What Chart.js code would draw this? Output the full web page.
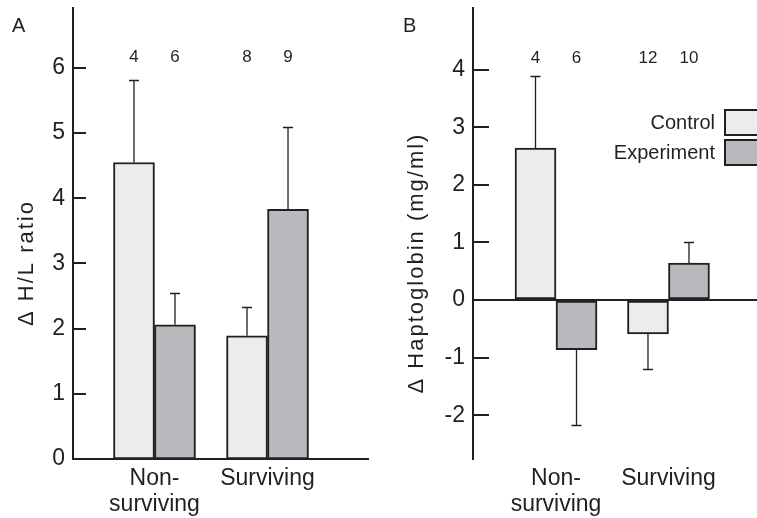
<!DOCTYPE html>
<html>
<head>
<meta charset="utf-8">
<script src="https://cdn.jsdelivr.net/npm/chart.js@4"></script>
<style>
  html, body { margin: 0; padding: 0; background: #fff; }
  #wrap { position: relative; width: 757px; height: 518px; overflow: hidden; }
  canvas { position: absolute; top: 0; }
  #chartA { left: 0; }
  #chartB { left: 380px; }
</style>
</head>
<body>
<div id="wrap">
  <canvas id="chartA" width="380" height="518"></canvas>
  <canvas id="chartB" width="377" height="518"></canvas>
</div>
<script>
// --- data ---
const groupLabels = [["Non-", "surviving"], "Surviving"];
const groupPos = [1, 2];
const seriesNames = ["Control", "Experiment"];

// panel A: change in H/L ratio
const hlTicks = [0, 1, 2, 3, 4, 5, 6];
const hlControl = [4.55, 1.89];
const hlControlErr = [1.26, 0.44];
const hlExperiment = [2.06, 3.83];
const hlExperimentErr = [0.49, 1.26];
const hlControlN = [4, 8];
const hlExperimentN = [6, 9];

// panel B: change in haptoglobin (mg/ml)
const hpTicks = [-2, -1, 0, 1, 2, 3, 4];
const hpControl = [2.64, -0.59];
const hpControlErr = [1.25, 0.61];
const hpExperiment = [-0.86, 0.64];
const hpExperimentErr = [1.31, 0.37];
const hpControlN = [4, 12];
const hpExperimentN = [6, 10];

// --- style ---
const ink = "#231f20";
const fills = ["#ececec", "#b8b9bc"];
const FONT = '"Liberation Sans", Arial, Helvetica, sans-serif';

function makeDatasets(series) {
  return series.map((s, i) => ({
    label: seriesNames[i],
    data: groupPos.map((x, j) => ({ x, y: s.vals[j] })),
    err: s.errs,
    n: s.ns,
    backgroundColor: fills[i],
    borderColor: ink,
    borderWidth: 2,
    borderSkipped: false,
    barThickness: 41
  }));
}

// error bars, counts, inside ticks, titles, legend
const deco = {
  id: "deco",
  afterDatasetsDraw(chart, args, opts) {
    const ctx = chart.ctx;
    const y = chart.scales.y;
    ctx.save();
    ctx.strokeStyle = ink;
    ctx.fillStyle = ink;
    ctx.lineWidth = 1.3;
    chart.data.datasets.forEach((ds, i) => {
      chart.getDatasetMeta(i).data.forEach((el, j) => {
        const v = ds.data[j].y;
        const tip = v + (v < 0 ? -ds.err[j] : ds.err[j]);
        const y0 = y.getPixelForValue(v);
        const y1 = Math.round(y.getPixelForValue(tip)) + 0.5;
        ctx.beginPath();
        ctx.moveTo(el.x, y0);
        ctx.lineTo(el.x, y1);
        ctx.moveTo(el.x - 5, y1);
        ctx.lineTo(el.x + 5, y1);
        ctx.stroke();
        // group size above the bars
        ctx.font = "17px " + FONT;
        ctx.textAlign = "center";
        ctx.textBaseline = "middle";
        ctx.fillText(ds.n[j], el.x, opts.countY);
      });
    });
    ctx.restore();
  },
  afterDraw(chart, args, opts) {
    const ctx = chart.ctx;
    const area = chart.chartArea;
    const y = chart.scales.y;
    ctx.save();
    ctx.strokeStyle = ink;
    ctx.fillStyle = ink;
    ctx.lineWidth = 2;
    y.ticks.forEach((t, i) => {
      const py = Math.round(y.getPixelForTick(i));
      ctx.beginPath();
      ctx.moveTo(area.left, py);
      ctx.lineTo(area.left + opts.tickLen, py);
      ctx.stroke();
    });

    // panel letter
    ctx.font = "20px " + FONT;
    ctx.textAlign = "left";
    ctx.textBaseline = "alphabetic";
    ctx.fillText(opts.letter, opts.letterX, 32);

    // axis title
    ctx.save();
    ctx.translate(opts.titleX, 263);
    ctx.rotate(-Math.PI / 2);
    ctx.font = "22px " + FONT;
    ctx.letterSpacing = "2px";
    ctx.textAlign = "center";
    ctx.textBaseline = "middle";
    ctx.fillText(opts.title, 0, 0);
    ctx.restore();

    // legend, boxes to the right of the names
    if (opts.legend) {
      ctx.font = "20px " + FONT;
      ctx.textAlign = "right";
      ctx.textBaseline = "middle";
      seriesNames.forEach((name, i) => {
        const top = 110 + i * 30;
        ctx.fillStyle = fills[i];
        ctx.fillRect(345, top, 40, 25);
        ctx.strokeRect(345, top, 40, 25);
        ctx.fillStyle = ink;
        ctx.fillText(name, 335, top + 13);
      });
    }
    ctx.restore();
  }
};

function buildConfig(p) {
  return {
    type: "bar",
    data: { datasets: makeDatasets(p.series) },
    plugins: [deco],
    options: {
      responsive: false,
      animation: false,
      devicePixelRatio: 1,
      layout: { padding: { top: 8, right: p.padRight, left: 0, bottom: 0 } },
      plugins: {
        legend: { display: false },
        tooltip: { enabled: false },
        deco: p.deco
      },
      scales: {
        x: {
          type: "linear",
          min: p.xMin,
          max: p.xMax,
          offset: false,
          grid: { display: false, drawTicks: false },
          border: { display: p.xBorder, color: ink, width: 2 },
          afterFit: s => { s.height = 59; s.paddingLeft = 0; s.paddingRight = 0; },
          afterBuildTicks: s => { s.ticks = groupPos.map(v => ({ value: v })); },
          ticks: {
            autoSkip: false,
            maxRotation: 0,
            padding: 6,
            color: ink,
            font: { family: FONT, size: 23, lineHeight: 1.15 },
            callback: v => groupLabels[groupPos.indexOf(v)]
          }
        },
        y: {
          min: p.yMin,
          max: p.yMax,
          grid: {
            display: p.zeroLine,
            drawTicks: false,
            lineWidth: 2,
            color: c => (c.tick && c.tick.value === 0 ? ink : "rgba(0,0,0,0)")
          },
          border: { display: true, color: ink, width: 2 },
          afterFit: s => { s.width = p.yWidth; s.paddingTop = 0; s.paddingBottom = 0; },
          afterBuildTicks: s => { s.ticks = p.yTicks.map(v => ({ value: v })); },
          ticks: {
            padding: 8,
            color: ink,
            font: { family: FONT, size: 23 }
          }
        }
      }
    }
  };
}

new Chart(document.getElementById("chartA"), buildConfig({
  series: [
    { vals: hlControl, errs: hlControlErr, ns: hlControlN },
    { vals: hlExperiment, errs: hlExperimentErr, ns: hlExperimentN }
  ],
  yTicks: hlTicks,
  xMin: 0.279, xMax: 2.889,
  yMin: 0, yMax: 6.92,
  yWidth: 73, padRight: 12,
  xBorder: true, zeroLine: false,
  deco: { tickLen: 13, countY: 57, letter: "A", letterX: 12, title: "\u0394 H/L ratio", titleX: 27, legend: false }
}));

new Chart(document.getElementById("chartB"), buildConfig({
  series: [
    { vals: hpControl, errs: hpControlErr, ns: hpControlN },
    { vals: hpExperiment, errs: hpExperimentErr, ns: hpExperimentN }
  ],
  yTicks: hpTicks,
  xMin: 0.262, xMax: 2.787,
  yMin: -2.76, yMax: 5.07,
  yWidth: 93, padRight: 0,
  xBorder: false, zeroLine: true,
  deco: { tickLen: 16, countY: 58, letter: "B", letterX: 23, title: "\u0394 Haptoglobin (mg/ml)", titleX: 37, legend: true }
}));
</script>
</body>
</html>
